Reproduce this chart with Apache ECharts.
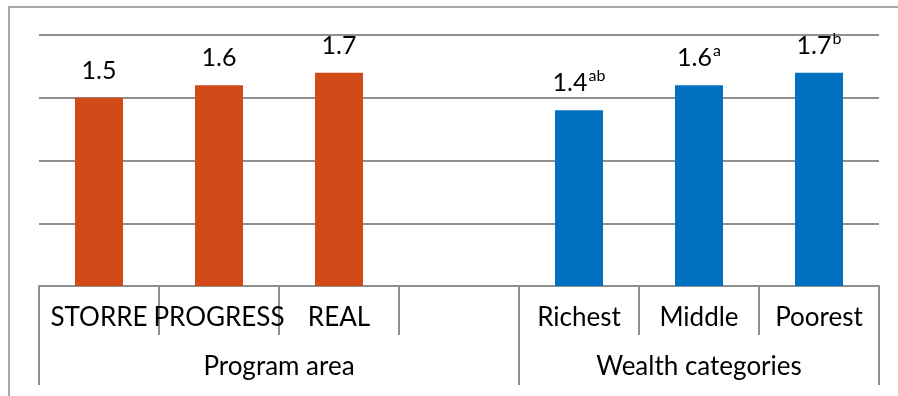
<!DOCTYPE html>
<html>
<head>
<meta charset="utf-8">
<script src="https://cdn.jsdelivr.net/npm/echarts@6/dist/echarts.min.js"></script>
<style>
html,body{margin:0;padding:0;background:#fff;}
#chart{width:898px;height:396px;}
</style>
</head>
<body>
<div id="chart"></div>
<script>
// ---- data ----
var categories = ['STORRE', 'PROGRESS', 'REAL', '', 'Richest', 'Middle', 'Poorest'];
var values = [1.5, 1.6, 1.7, null, 1.4, 1.6, 1.7];
var superscripts = ['', '', '', '', 'ab', 'a', 'b'];
var groupNames = ['Program area', 'Wealth categories'];
var groupSpans = [4, 3];
var groupColors = ['#D34A19', '#0070C0'];
var yTicks = [0, 0.5, 1, 1.5, 2];

// derived group boundaries and centres (in category units)
var groupBounds = [0], groupCenters = [], groupOf = [];
(function () {
  var acc = 0;
  groupSpans.forEach(function (s, g) {
    groupCenters.push(acc + s / 2);
    for (var i = 0; i < s; i++) groupOf.push(g);
    acc += s;
    groupBounds.push(acc);
  });
})();

var FONT = 'Lato';
var GRAY = '#8f8f8f';

var chart = echarts.init(document.getElementById('chart'), null, {renderer: 'canvas'});
chart.setOption({
  animation: false,
  backgroundColor: '#fff',
  grid: {left: 39, right: 19, top: 35, bottom: 110, containLabel: false},
  graphic: [{
    type: 'rect', silent: true,
    shape: {x: 9, y: 7, width: 1000, height: 500},
    style: {fill: 'none', stroke: GRAY, lineWidth: 1.5}
  }],
  xAxis: [{
    type: 'category',
    data: categories,
    position: 'bottom',
    axisLine: {show: true, lineStyle: {color: GRAY, width: 2}},
    axisTick: {show: true, interval: 0, length: 49, lineStyle: {color: GRAY, width: 2}},
    axisLabel: {interval: 0, fontSize: 26, fontFamily: FONT, color: '#000', margin: 19},
    splitLine: {show: false}
  }, {
    type: 'value',
    min: 0, max: categories.length,
    position: 'bottom',
    axisLine: {show: false},
    splitLine: {show: false},
    axisTick: {show: true, customValues: groupBounds, length: 99, lineStyle: {color: GRAY, width: 2}},
    axisLabel: {
      customValues: groupCenters,
      fontSize: 26, fontFamily: FONT, color: '#000', margin: 68,
      formatter: function (v) {
        var i = groupCenters.indexOf(v);
        return i >= 0 ? groupNames[i] : '';
      }
    }
  }],
  yAxis: {
    type: 'value',
    min: yTicks[0], max: yTicks[yTicks.length - 1], interval: yTicks[1] - yTicks[0],
    axisLine: {show: false},
    axisTick: {show: false},
    axisLabel: {show: false},
    splitLine: {show: true, lineStyle: {color: GRAY, width: 2}}
  },
  series: [{
    type: 'bar',
    xAxisIndex: 0,
    barWidth: '40%',
    data: values.map(function (v, i) {
      return {value: v, itemStyle: {color: groupColors[groupOf[i]]}};
    }),
    label: {
      show: true,
      position: 'top',
      distance: 12,
      formatter: function (p) {
        if (p.value == null) return '';
        var s = superscripts[p.dataIndex];
        return '{v|' + p.value.toFixed(1) + '}' + (s ? '{s|' + s + '}' : '');
      },
      rich: {
        v: {fontSize: 25, fontFamily: FONT, color: '#000', lineHeight: 30},
        s: {fontSize: 16, fontFamily: FONT, color: '#000', verticalAlign: 'top', lineHeight: 30, padding: [0, 0, 9, 1]}
      }
    }
  }]
});
</script>
</body>
</html>
